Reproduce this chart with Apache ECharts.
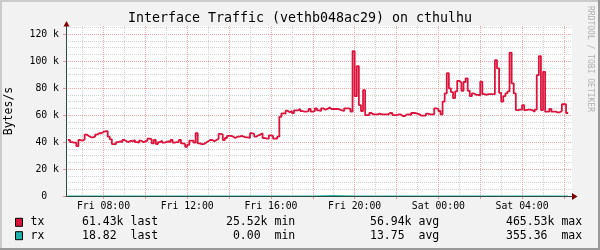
<!DOCTYPE html>
<html><head><meta charset="utf-8">
<script src="https://cdn.jsdelivr.net/npm/echarts@6/dist/echarts.min.js"></script>
<style>html,body{margin:0;padding:0;background:#f2f2f2}#c{width:600px;height:250px}</style>
</head><body><div id="c"></div>
<script>
// ---- data (hours counted from Fri 00:00) ----
const txStartHour = 6.3;
const txStepHour = 0.1;
// tx traffic, kilobytes/s, one value per 6 minutes
const txKBps = [
  41.5, 40, 39.5, 39.5, 37, 41.5, 41, 42, 45.5, 44.5,
  43.5, 43.5, 44, 45.5, 46.5, 46.5, 47.5, 48, 48, 44,
  42, 38.5, 38.5, 40, 40.5, 40, 41.5, 40.5, 40, 41,
  40.5, 41.5, 40, 39.5, 41, 40, 40.5, 41, 42.5, 42,
  39, 41.5, 38.5, 40, 41, 39.5, 40, 40.5, 40, 41.5,
  39.5, 40, 40, 41.5, 39, 38.5, 36.5, 38, 41, 41,
  39.5, 46.5, 39, 38.5, 38.5, 39.5, 40.5, 41.5, 41.5, 40.5,
  41.5, 42.5, 46, 45.5, 41.5, 43, 44.5, 44.5, 44, 43,
  44, 44, 44.5, 44, 43.5, 43.5, 43, 46.5, 46, 44,
  45, 45.5, 46.5, 43, 42.5, 42.5, 45, 44.5, 42.5, 42.5,
  44, 58.7, 61.2, 61, 63.2, 62, 63, 61.5, 63.5, 63.5,
  64.5, 63, 62.5, 62.5, 63, 64.5, 62.5, 63, 65, 63.5,
  63, 65, 64, 64.5, 65.5, 64.5, 64.5, 64.5, 64.5, 64,
  63.5, 63, 65, 65, 64.5, 62.5, 107.4, 74, 96.3, 67.4,
  63, 78.5, 60, 60, 61.5, 60.5, 60.5, 60.5, 61, 60.5,
  60.5, 60.5, 60.5, 61.5, 61.5, 60, 60, 60.5, 60.5, 59.3,
  59.3, 60.5, 60.5, 60, 61.5, 61.5, 61, 60.5, 59.5, 59.5,
  59.5, 61, 60.5, 60.5, 60.5, 65, 64.5, 63, 60.5, 70,
  76, 91, 79.8, 77, 72.5, 77.5, 85.4, 84, 78, 84.5,
  87.2, 78, 74, 76, 75, 75, 74.5, 84.7, 75.5, 75,
  75.5, 75.5, 75.5, 75.5, 100.7, 94.6, 76.5, 70, 74, 76,
  77.5, 106.2, 83.5, 76, 63.7, 64, 64, 67.4, 63.7, 64,
  64, 63.5, 62.5, 64, 89.6, 103.7, 63.7, 92, 62.5, 62.5,
  64.5, 62.5, 62.5, 62, 62, 63, 68, 68, 61.5, 61.43
];
// rx traffic, bytes/s (tiny, sits on the axis)
const rxHours = [6.3, 7, 8, 9, 10, 11, 12, 13, 14, 15, 16, 17, 18, 19, 20, 21, 22, 23, 24, 25, 26, 27, 28, 29, 30, 30.2];
const rxBps = [12, 15, 10, 8, 20, 14, 9, 11, 18, 13, 10, 16, 355, 12, 9, 14, 11, 10, 15, 13, 8, 12, 17, 11, 14, 18.82];

// axis ticks
const xLabelHours = [8, 12, 16, 20, 24, 28];
const xMajorHours = [8, 10, 12, 14, 16, 18, 20, 22, 24, 26, 28, 30];
const xMinorHours = [7, 9, 11, 13, 15, 17, 19, 21, 23, 25, 27, 29];
const yMajorTicks = [0, 20000, 40000, 60000, 80000, 100000, 120000];
const yMinorTicks = [5000, 10000, 15000, 25000, 30000, 35000, 45000, 50000, 55000, 65000, 70000, 75000, 85000, 90000, 95000, 105000, 110000, 115000, 125000];

// legend
const legendNames = ['tx', 'rx'];
const legendColors = ['#DC143C', '#20B2AA'];
const legendLast = ['61.43k last', '18.82  last'];
const legendMin = ['25.52k min', ' 0.00  min'];
const legendAvg = ['56.94k avg', '13.75  avg'];
const legendMax = ['465.53k max', '355.36  max'];

const titleText = 'Interface Traffic (vethb048ac29) on cthulhu';
const yTitle = 'Bytes/s';
const watermark = 'RRDTOOL / TOBI OETIKER';

// ---- chart ----
const FONT = 'DejaVu Sans Mono';
const X_MIN = 6.208, X_MAX = 30.384, Y_MAX = 126000;
const GRID = {left: 66, right: 28, top: 26, bottom: 54};

const txData = txKBps.map((v, i) => [Math.round((txStartHour + i * txStepHour) * 100) / 100, v * 1000]);
const rxData = rxHours.map((h, i) => [h, rxBps[i]]);

const fmtHour = h => (h < 24 ? 'Fri ' : 'Sat ') + String(h % 24).padStart(2, '0') + ':00';
const fmtY = v => v === 0 ? '0  ' : (v / 1000) + ' k';

const baseX = {type: 'value', min: X_MIN, max: X_MAX, position: 'bottom'};
const baseY = {type: 'value', min: 0, max: Y_MAX, position: 'left'};

const graphics = [
  {type: 'rect', shape: {x: 0, y: 0, width: 600, height: 2}, style: {fill: '#cbcbcb'}, silent: true},
  {type: 'rect', shape: {x: 0, y: 0, width: 2, height: 250}, style: {fill: '#cbcbcb'}, silent: true},
  {type: 'rect', shape: {x: 0, y: 248, width: 600, height: 2}, style: {fill: '#999999'}, silent: true},
  {type: 'rect', shape: {x: 598, y: 0, width: 2, height: 250}, style: {fill: '#999999'}, silent: true},
  {type: 'text', x: 300, y: 19, style: {text: titleText, font: '13.3px ' + FONT, fill: '#000', align: 'center', verticalAlign: 'middle'}},
  {type: 'text', x: 9, y: 111, rotation: Math.PI / 2, style: {text: yTitle, font: '11.5px ' + FONT, fill: '#000', align: 'center', verticalAlign: 'middle'}},
  {type: 'text', x: 590, y: 59, rotation: -Math.PI / 2, style: {text: watermark, font: '8px ' + FONT, fill: '#b0b0b0', align: 'center', verticalAlign: 'middle'}},
  {type: 'polygon', shape: {points: [[63.5, 26.5], [69.5, 26.5], [66.5, 21]]}, style: {fill: '#7f0000'}, z: 10},
  {type: 'polygon', shape: {points: [[572, 193], [572, 200], [577.5, 196.5]]}, style: {fill: '#7f0000'}, z: 10}
];
const rowY = [222.3, 235.7];
const lf = '11.5px ' + FONT;
legendNames.forEach((n, i) => {
  graphics.push({type: 'rect', shape: {x: 15.5, y: rowY[i] - 4, width: 7, height: 8}, style: {fill: legendColors[i], stroke: '#000', lineWidth: 1}});
  const cols = [[30.5, n], [82, legendLast[i]], [226, legendMin[i]], [370, legendAvg[i]], [506, legendMax[i]]];
  cols.forEach(c => graphics.push({type: 'text', x: c[0], y: rowY[i], style: {text: c[1], font: lf, fill: '#000', align: 'left', verticalAlign: 'middle'}}));
});

const option = {
  backgroundColor: '#f2f2f2',
  animation: false,
  grid: Object.assign({show: true, backgroundColor: '#ffffff', borderWidth: 0}, GRID),
  xAxis: [
    Object.assign({}, baseX, {
      axisLine: {show: false},
      axisTick: {show: true, customValues: xMajorHours, length: 3, lineStyle: {color: '#e49a9a'}},
      axisLabel: {customValues: xLabelHours, formatter: fmtHour, fontFamily: FONT, fontSize: 9.8, color: '#000', margin: 5},
      splitLine: {show: true, lineStyle: {color: '#f2a3a3', type: 'dotted', width: 1}}
    }),
    Object.assign({}, baseX, {
      axisLine: {show: false},
      axisTick: {show: false, customValues: xMinorHours},
      axisLabel: {show: false},
      splitLine: {show: true, lineStyle: {color: '#d2d2d2', type: 'dotted', width: 1}}
    }),
    Object.assign({}, baseX, {
      z: 5,
      axisLine: {show: true, onZero: false, lineStyle: {color: '#2C4D43', width: 1}},
      axisTick: {show: false}, axisLabel: {show: false}, splitLine: {show: false}
    })
  ],
  yAxis: [
    Object.assign({}, baseY, {
      axisLine: {show: true, onZero: false, lineStyle: {color: '#2C4D43', width: 1}},
      axisTick: {show: true, customValues: yMajorTicks, length: 3, lineStyle: {color: '#e49a9a'}},
      axisLabel: {customValues: yMajorTicks, formatter: fmtY, fontFamily: FONT, fontSize: 9.8, color: '#000', margin: 7},
      splitLine: {show: true, showMinLine: false, lineStyle: {color: '#f2a3a3', type: 'dotted', width: 1}}
    }),
    Object.assign({}, baseY, {
      axisLine: {show: false},
      axisTick: {show: false, customValues: yMinorTicks},
      axisLabel: {show: false},
      splitLine: {show: true, lineStyle: {color: '#d2d2d2', type: 'dotted', width: 1}}
    })
  ],
  graphic: graphics,
  series: [
    {name: 'rx', type: 'line', xAxisIndex: 0, yAxisIndex: 0, data: rxData, step: 'end', symbol: 'none',
     lineStyle: {color: '#20B2AA', width: 1}, z: 2},
    {name: 'tx', type: 'line', xAxisIndex: 0, yAxisIndex: 0, data: txData, step: 'end', symbol: 'none',
     lineStyle: {color: '#DC143C', width: 1.8}, z: 3}
  ]
};
const chart = echarts.init(document.getElementById('c'), null, {renderer: 'canvas'});
chart.setOption(option);
</script></body></html>
